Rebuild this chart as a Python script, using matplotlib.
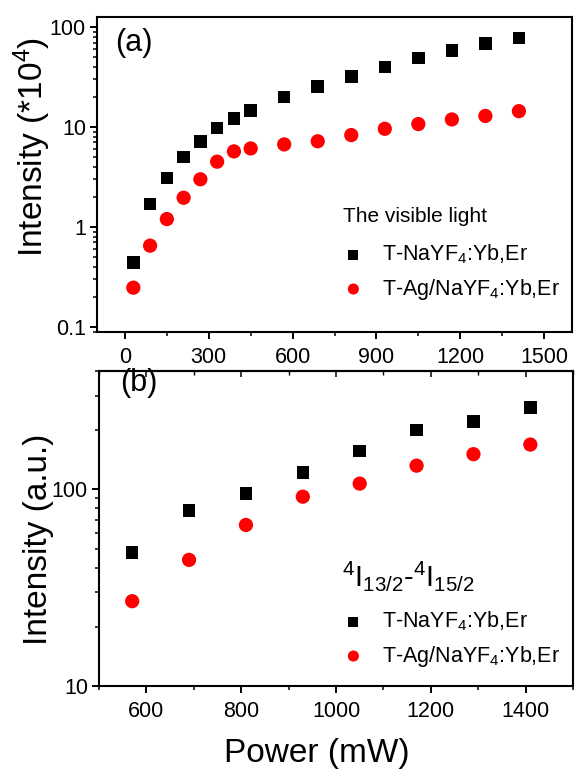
import matplotlib
matplotlib.use("Agg")
import matplotlib.pyplot as plt
from matplotlib.ticker import FixedLocator, FixedFormatter, MultipleLocator, LogLocator, NullFormatter

plt.rcParams['font.family'] = ['Liberation Sans', 'DejaVu Sans']
plt.rcParams['mathtext.fontset'] = 'custom'
plt.rcParams['mathtext.rm'] = 'Liberation Sans'
plt.rcParams['mathtext.it'] = 'Liberation Sans'
plt.rcParams['mathtext.default'] = 'regular'

# ---- data panel (a) ----
power_a = [30, 90, 150, 210, 270, 330, 390, 450, 570, 690, 810, 930, 1050, 1170, 1290, 1410]
vis_plain = [0.44, 1.69, 3.1, 5.0, 7.2, 9.8, 12.1, 14.7, 20, 25.5, 32, 40, 49, 58, 68, 78]
vis_ag = [0.247, 0.65, 1.2, 1.96, 3.0, 4.5, 5.7, 6.1, 6.7, 7.2, 8.3, 9.6, 10.7, 11.9, 12.9, 14.4]

# ---- data panel (b) ----
power_b = [570, 690, 810, 930, 1050, 1170, 1290, 1410]
ir_plain = [47.8, 78, 95.4, 122, 157, 200, 221, 260]
ir_ag = [27, 43.8, 65.9, 91.8, 107, 132, 151, 169]

label_plain = "T-NaYF$_4$:Yb,Er"
label_ag = "T-Ag/NaYF$_4$:Yb,Er"
title_a = "The visible light"
title_b = "$^4$I$_{13/2}$-$^4$I$_{15/2}$"

W, H = 576, 775
fig = plt.figure(figsize=(W / 100, H / 100), dpi=100)

def px_axes(l, t, r, b):
    return fig.add_axes([l / W, 1 - b / H, (r - l) / W, (b - t) / H])

def fx(x):
    return x / W

def fy(y):
    return 1 - y / H

ax1 = px_axes(97, 17, 572, 332)
ax2 = px_axes(99, 371, 573, 686)

for ax in (ax1, ax2):
    for s in ax.spines.values():
        s.set_linewidth(1.5)
    ax.tick_params(which='major', direction='out', length=5, width=1.4, labelsize=15.5)
    ax.tick_params(which='minor', direction='out', length=3, width=1.1)
    ax.tick_params(axis='x', which='major', pad=6)
    ax.tick_params(axis='y', which='major', pad=3)

leg_kw = dict(loc='upper left', bbox_transform=fig.transFigure, frameon=False, fontsize=15.5,
              markerscale=0.78, handletextpad=0.65, handlelength=1.4,
              labelspacing=0.5, borderpad=0.2, borderaxespad=0)

# panel (a)
ax1.scatter(power_a, vis_plain, marker='s', s=82, color='black', edgecolors='none', label=label_plain, zorder=3)
ax1.scatter(power_a, vis_ag, marker='o', s=105, color='red', edgecolors='none', label=label_ag, zorder=3)
ax1.set_yscale('log')
ax1.set_xlim(-100, 1600)
ax1.set_ylim(0.089, 126)
ax1.xaxis.set_major_locator(MultipleLocator(300))
ax1.xaxis.set_minor_locator(MultipleLocator(150))
ax1.yaxis.set_major_locator(FixedLocator([0.1, 1, 10, 100]))
ax1.yaxis.set_major_formatter(FixedFormatter(['0.1', '1', '10', '100']))
ax1.yaxis.set_minor_locator(LogLocator(base=10, subs=range(2, 10)))
ax1.yaxis.set_minor_formatter(NullFormatter())
ax1.set_ylabel("Intensity (*10$^4$)", fontsize=24)
ax1.yaxis.set_label_coords(-0.093, 0.589)
fig.text(fx(115), fy(28), "(a)", fontsize=22, va='top', ha='left')
fig.text(fx(343), fy(222), title_a, fontsize=15, va='baseline', ha='left')
ax1.legend(bbox_to_anchor=(fx(334), fy(238)), **leg_kw)

# panel (b)
ax2.scatter(power_b, ir_plain, marker='s', s=82, color='black', edgecolors='none', label=label_plain, zorder=3)
ax2.scatter(power_b, ir_ag, marker='o', s=105, color='red', edgecolors='none', label=label_ag, zorder=3)
ax2.set_yscale('log')
ax2.set_xlim(500, 1500)
ax2.set_ylim(10, 400)
ax2.xaxis.set_major_locator(MultipleLocator(200))
ax2.xaxis.set_minor_locator(MultipleLocator(100))
ax2.yaxis.set_major_locator(FixedLocator([10, 100]))
ax2.yaxis.set_major_formatter(FixedFormatter(['10', '100']))
ax2.yaxis.set_minor_locator(LogLocator(base=10, subs=range(2, 10)))
ax2.yaxis.set_minor_formatter(NullFormatter())
ax2.set_ylabel("Intensity (a.u.)", fontsize=24)
ax2.yaxis.set_label_coords(-0.095, 0.467)
ax2.set_xlabel("Power (mW)", fontsize=24)
ax2.xaxis.set_label_coords(0.46, -0.165)
fig.text(fx(120), fy(368), "(b)", fontsize=22, va='top', ha='left')
fig.text(fx(342), fy(586), title_b, fontsize=21, va='baseline', ha='left')
ax2.legend(bbox_to_anchor=(fx(334), fy(605)), **leg_kw)

# inward ticks on the top edge of panel (b)
top = ax2.secondary_xaxis('top')
top.xaxis.set_major_locator(MultipleLocator(200))
top.xaxis.set_minor_locator(MultipleLocator(100))
top.tick_params(which='major', direction='in', length=4, width=1.1, labeltop=False)
top.tick_params(which='minor', direction='in', length=3, width=1.0)
top.spines['top'].set_linewidth(1.5)

fig.savefig("out.png", dpi=100)
